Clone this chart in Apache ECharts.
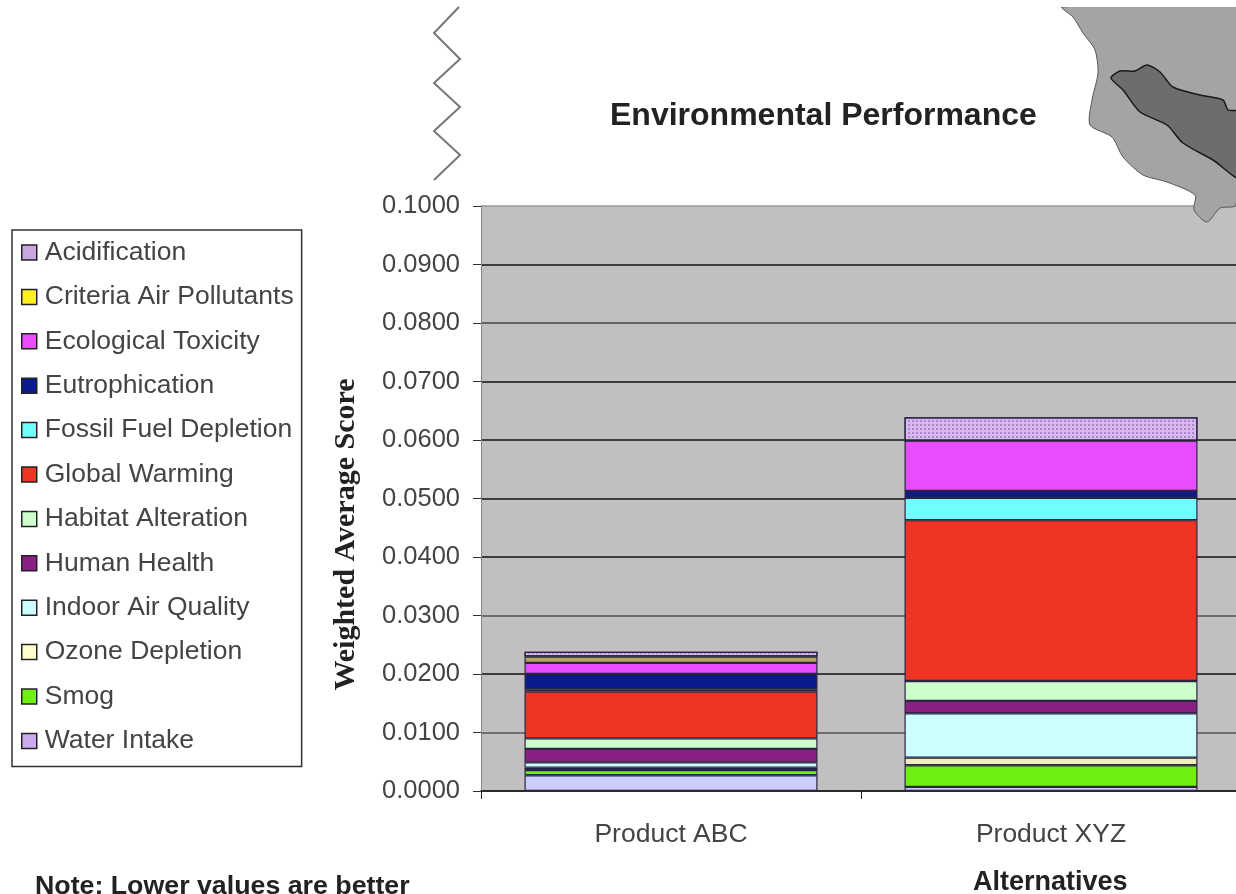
<!DOCTYPE html>
<html>
<head>
<meta charset="utf-8">
<title>Environmental Performance</title>
<script src="https://cdn.jsdelivr.net/npm/echarts@6/dist/echarts.min.js"></script>
<style>
    html, body { margin: 0; padding: 0; background: #fff; overflow: hidden; }
    #main { width: 1236px; height: 894px; }
</style>
</head>
<body>
<div id="main"></div>
<script>
var categories = ['Product ABC', 'Product XYZ'];
var legendNames = ['Acidification', 'Criteria Air Pollutants', 'Ecological Toxicity', 'Eutrophication',
    'Fossil Fuel Depletion', 'Global Warming', 'Habitat Alteration', 'Human Health',
    'Indoor Air Quality', 'Ozone Depletion', 'Smog', 'Water Intake'];

// values per impact, [ABC, XYZ]
var acidification = [0.0008, 0.0040];
var criteriaAir = [0.0011, 0.0000];
var ecoToxicity = [0.0019, 0.0086];
var eutrophication = [0.0026, 0.0012];
var fossilFuel = [0.0004, 0.0038];
var globalWarming = [0.0080, 0.0275];
var habitat = [0.0018, 0.0034];
var humanHealth = [0.0023, 0.0021];
var indoorAir = [0.0009, 0.0076];
var ozone = [0.0004, 0.0013];
var smog = [0.0009, 0.0037];
var waterIntake = [0.0027, 0.0007];

var seriesValues = [acidification, criteriaAir, ecoToxicity, eutrophication, fossilFuel, globalWarming,
    habitat, humanHealth, indoorAir, ozone, smog, waterIntake];
var colors = ['#d9b8f0', '#b5a45c', '#e84cff', '#0b1a8c', '#70ffff', '#ee3524',
    '#ccffcc', '#8a2084', '#ccffff', '#eeeebb', '#70f010', '#ccccff'];
var legendColors = ['#c9a6e0', '#ffee22', '#e84cff', '#0b1a8c', '#70ffff', '#ee3524',
    '#ccffcc', '#8a2084', '#ccffff', '#ffffcc', '#70f010', '#ccaaee'];
// gridlines from 0.0000 up to 0.1000, some are fainter in the scan
var gridColors = ['#111', '#555', '#111', '#555', '#111', '#111', '#111', '#111', '#444', '#111', '#999'];

var myChart = echarts.init(document.getElementById('main'));
var series = [];

// stack from the bottom up, so the legend order is reversed
for (var i = legendNames.length - 1; i >= 0; i--) {
    var s = {
        name: legendNames[i],
        type: 'bar',
        stack: 'total',
        barWidth: 293,
        data: seriesValues[i],
        itemStyle: {color: colors[i], borderColor: '#2a2440', borderWidth: 1.2}
    };
    if (i === 0) {
        // dotted fill on the top segment
        s.itemStyle.decal = {
            symbol: 'rect',
            symbolSize: 1,
            dashArrayX: [2, 2],
            dashArrayY: [2, 2],
            color: 'rgba(150,110,190,0.7)'
        };
    }
    series.push(s);
}

var option = {
    animation: false,
    backgroundColor: '#fff',
    textStyle: {fontFamily: 'Liberation Sans'},
    title: [
        {
            text: 'Environmental Performance',
            left: 605, top: 95,
            textStyle: {fontSize: 32, fontWeight: 'bold', color: '#222', fontFamily: 'Liberation Sans'}
        },
        {
            text: 'Alternatives',
            left: 968, top: 864,
            textStyle: {fontSize: 27, fontWeight: 'bold', color: '#222', fontFamily: 'Liberation Sans'}
        }
    ],
    legend: {
        orient: 'vertical',
        left: 12,
        top: 230,
        data: legendNames.map(function (n, i) {
            return {name: n, itemStyle: {color: legendColors[i], decal: 'none', borderColor: '#222', borderWidth: 1.5}};
        }),
        icon: 'rect',
        itemWidth: 15,
        itemHeight: 15,
        itemGap: 17.4,
        padding: [9, 8, 12, 9],
        backgroundColor: '#fff',
        borderColor: '#333',
        borderWidth: 1.5,
        selectedMode: false,
        textStyle: {fontSize: 26.5, color: '#444', fontFamily: 'Liberation Sans', padding: [0, 0, 0, 3]}
    },
    grid: {
        left: 481,
        top: 206,
        width: 760,
        height: 585,
        outerBoundsMode: 'none',
        backgroundColor: '#c2bfc1',
        show: true,
        borderWidth: 0
    },
    xAxis: {
        type: 'category',
        data: categories,
        axisLine: {lineStyle: {color: '#222', width: 1.5}},
        axisTick: {show: true, length: 8, lineStyle: {color: '#222'}},
        axisLabel: {fontSize: 26.5, color: '#444', margin: 30}
    },
    yAxis: {
        type: 'value',
        min: 0,
        max: 0.1,
        interval: 0.01,
        name: 'Weighted Average Score',
        nameLocation: 'middle',
        nameGap: 120,
        nameTextStyle: {
            fontSize: 30,
            fontWeight: 'bold',
            color: '#222',
            fontFamily: 'Liberation Serif',
            padding: [0, 72, 0, 0]
        },
        axisLine: {show: true, lineStyle: {color: '#888', width: 1}},
        axisTick: {show: true, length: 8, lineStyle: {color: '#333'}},
        axisLabel: {
            fontSize: 25.5,
            color: '#444',
            margin: 21,
            formatter: function (v) { return v.toFixed(4); }
        },
        splitLine: {show: true, lineStyle: {color: gridColors, width: 1.5}}
    },
    graphic: [
        {
            // footnote is stretched in the original, the bottom edge is tight
            type: 'text', x: 35, y: 887, scaleX: 1.07,
            style: {
                text: 'Note: Lower values are better',
                fill: '#222',
                font: 'bold 25px "Liberation Sans"',
                verticalAlign: 'middle'
            }
        },
        {
            // torn edge squiggle left of the title
            type: 'polyline', z: 20,
            shape: {points: [[459, 7], [434, 33], [460, 59], [434, 83], [460, 107], [434, 131], [460, 155], [434, 180]]},
            style: {fill: null, stroke: '#777', lineWidth: 2}
        },
        {
            // map silhouette, top right corner
            type: 'polygon', z: 20,
            shape: {
                smooth: 0.25,
                points: [[1062, 7], [1073, 17], [1083, 33], [1095, 50], [1098, 73], [1092, 100], [1090, 125],
                    [1112, 137], [1123, 157], [1143, 175], [1167, 182], [1195, 195], [1194, 210], [1207, 222],
                    [1220, 208], [1236, 205], [1240, 100], [1240, 7]]
            },
            style: {fill: '#a6a3a6', stroke: '#555', lineWidth: 1}
        },
        {
            type: 'polygon', z: 21,
            shape: {
                smooth: 0.25,
                points: [[1111, 78], [1120, 71], [1135, 71], [1147, 65], [1160, 72], [1173, 87], [1200, 95],
                    [1223, 100], [1228, 110], [1240, 112], [1240, 178], [1213, 160], [1183, 143], [1167, 125],
                    [1140, 112], [1123, 90]]
            },
            style: {fill: '#6f6c6f', stroke: '#1a1a1a', lineWidth: 1.5}
        },
        {
            // white strip keeps the map's top edge straight, as cropped in the original
            type: 'rect', z: 22,
            shape: {x: 1050, y: 0, width: 186, height: 7},
            style: {fill: '#fff'}
        }
    ],
    series: series
};

if (option && typeof option === 'object') {
    myChart.setOption(option);
}
</script>
</body>
</html>
